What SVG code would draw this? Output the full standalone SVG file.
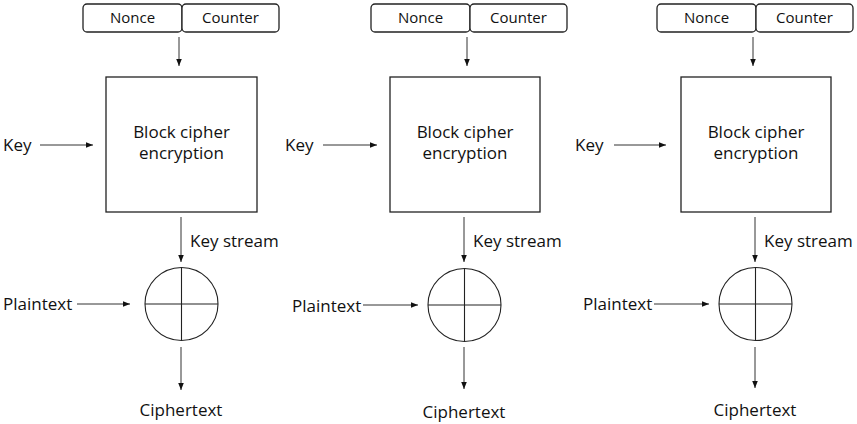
<svg xmlns="http://www.w3.org/2000/svg" width="857" height="424" viewBox="0 0 857 424">
<style>
text{font-family:"Open Sans","Noto Sans","Liberation Sans",sans-serif;fill:#111;}
.lbl{font-size:17px;}
.sm{font-size:15px;}
.c{text-anchor:middle;}
.box{fill:#fff;stroke:#222;stroke-width:1.3;}
.ln{fill:none;stroke:#222;stroke-width:1.1;}
.cn{fill:none;stroke:#333;stroke-width:1;marker-end:url(#ah);}
</style>
<defs>
<marker id="ah" markerUnits="userSpaceOnUse" markerWidth="8" markerHeight="8" viewBox="0 0 8 8" refX="7" refY="4" orient="auto">
<path d="M0,1.2 L7,4 L0,6.8 Z" fill="#111"/>
</marker>
</defs>
<rect width="857" height="424" fill="#fff"/>

<!-- Panel 1 -->
<g id="nc1">
<rect class="box" x="83" y="4" width="99" height="28" rx="4"/>
<rect class="box" x="182" y="4" width="97" height="28" rx="4"/>
<text class="sm c" x="132.5" y="23">Nonce</text>
<text class="sm c" x="230.5" y="23">Counter</text>
</g>
<g id="bc1">
<rect class="box" x="106" y="77" width="151" height="135"/>
<text class="lbl c" x="181.5" y="138">Block cipher</text>
<text class="lbl c" x="181.5" y="159">encryption</text>
</g>
<g id="x1">
<circle class="ln" cx="181.5" cy="304" r="36.5"/>
<path class="ln" d="M145,304 H218 M181.5,267.5 V340.5"/>
</g>
<g id="t1">
<text class="lbl" x="3" y="151">Key</text>
<text class="lbl" x="190" y="247">Key stream</text>
<text class="lbl" x="3" y="310">Plaintext</text>
<text class="lbl c" x="181" y="416">Ciphertext</text>
</g>

<!-- Panel 2 -->
<g id="nc2">
<rect class="box" x="371" y="4" width="99" height="28" rx="4"/>
<rect class="box" x="470" y="4" width="97" height="28" rx="4"/>
<text class="sm c" x="420.5" y="23">Nonce</text>
<text class="sm c" x="518.5" y="23">Counter</text>
</g>
<g id="bc2">
<rect class="box" x="390" y="77" width="150" height="135"/>
<text class="lbl c" x="465" y="138">Block cipher</text>
<text class="lbl c" x="465" y="159">encryption</text>
</g>
<g id="x2">
<circle class="ln" cx="464.5" cy="305" r="36.5"/>
<path class="ln" d="M428,305 H501 M464.5,268.5 V341.5"/>
</g>
<g id="t2">
<text class="lbl" x="285" y="151">Key</text>
<text class="lbl" x="473" y="247">Key stream</text>
<text class="lbl" x="292" y="312">Plaintext</text>
<text class="lbl c" x="464" y="418">Ciphertext</text>
</g>

<!-- Panel 3 -->
<g id="nc3">
<rect class="box" x="657" y="4" width="99" height="28" rx="4"/>
<rect class="box" x="756" y="4" width="97" height="28" rx="4"/>
<text class="sm c" x="706.5" y="23">Nonce</text>
<text class="sm c" x="804.5" y="23">Counter</text>
</g>
<g id="bc3">
<rect class="box" x="681" y="77" width="150" height="135"/>
<text class="lbl c" x="756" y="138">Block cipher</text>
<text class="lbl c" x="756" y="159">encryption</text>
</g>
<g id="x3">
<circle class="ln" cx="755.5" cy="304" r="36.5"/>
<path class="ln" d="M719,304 H792 M755.5,267.5 V340.5"/>
</g>
<g id="t3">
<text class="lbl" x="575" y="151">Key</text>
<text class="lbl" x="764" y="247">Key stream</text>
<text class="lbl" x="583" y="310">Plaintext</text>
<text class="lbl c" x="755" y="416">Ciphertext</text>
</g>

<g id="connectors">
<path class="cn" d="M179,37 V66"/>
<path class="cn" d="M40,145 H93"/>
<path class="cn" d="M181,217 V262"/>
<path class="cn" d="M77,304 H130"/>
<path class="cn" d="M181,347 V390"/>

<path class="cn" d="M467,37 V66"/>
<path class="cn" d="M323,145 H377"/>
<path class="cn" d="M464,217 V262"/>
<path class="cn" d="M363,305 H418"/>
<path class="cn" d="M464,347 V389"/>

<path class="cn" d="M753,37 V66"/>
<path class="cn" d="M614,145 H666"/>
<path class="cn" d="M755,217 V262"/>
<path class="cn" d="M654,304 H709"/>
<path class="cn" d="M755,347 V388"/>
</g>
</svg>
